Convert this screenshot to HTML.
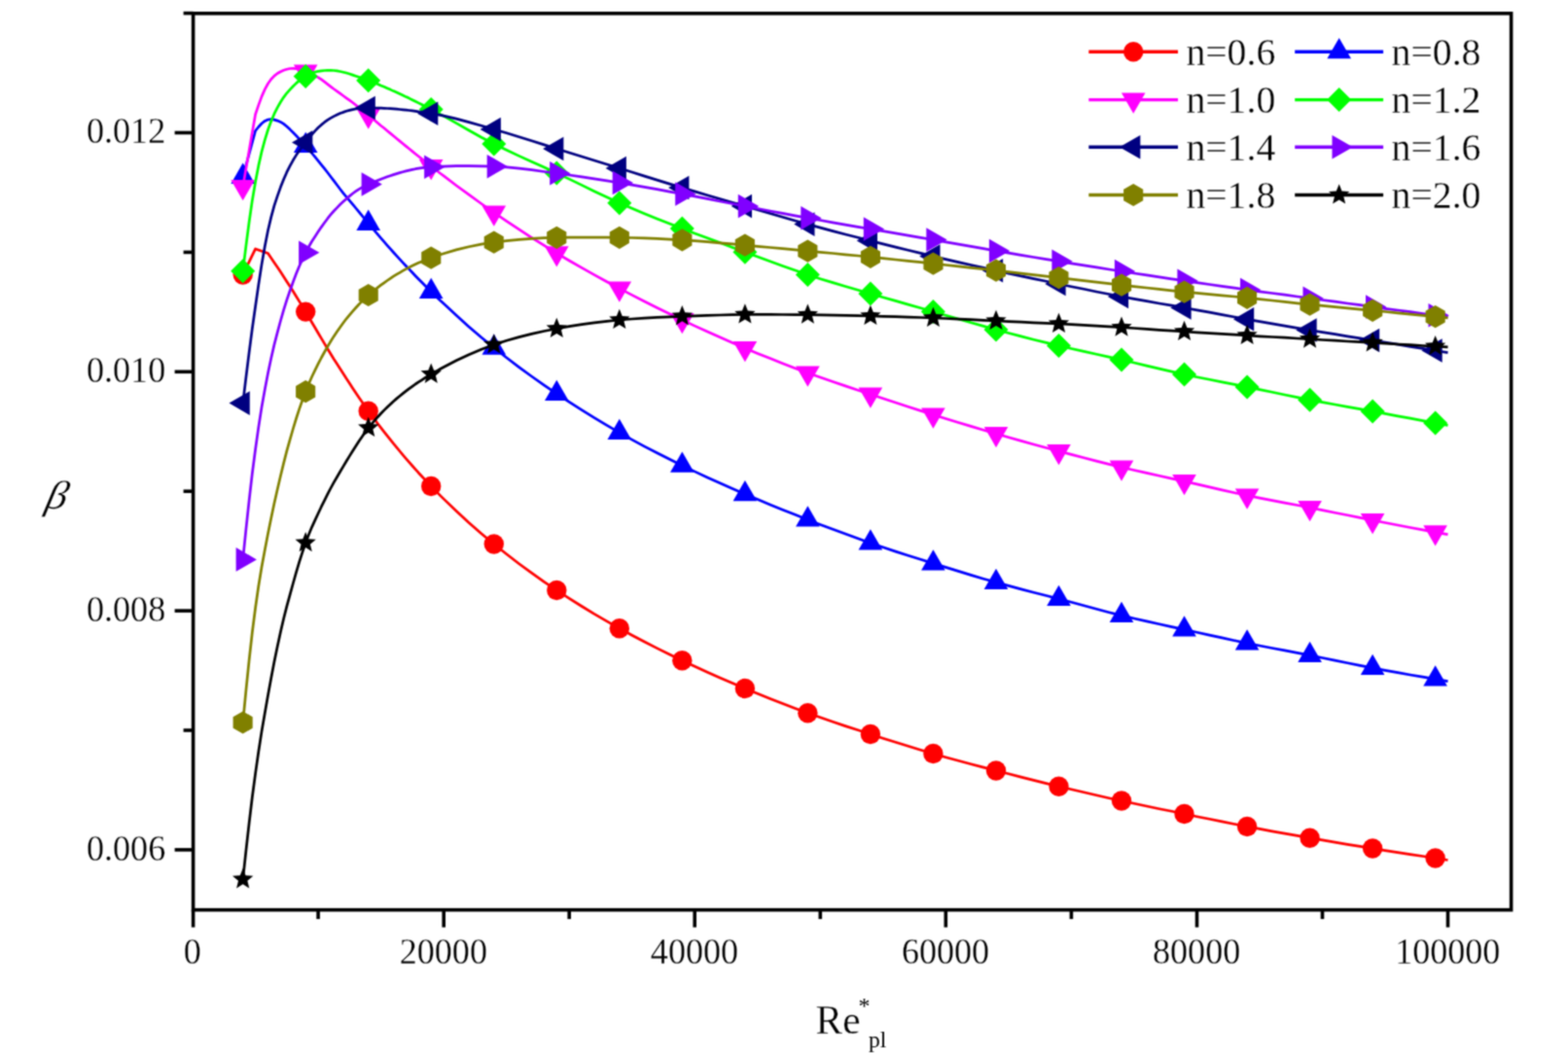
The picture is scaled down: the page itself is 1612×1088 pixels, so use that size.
<!DOCTYPE html>
<html lang="en"><head><meta charset="utf-8"><title>beta vs Re*pl</title>
<style>html,body{margin:0;padding:0;background:#fff}svg{display:block}text{font-family:"Liberation Serif","Times New Roman",serif;fill:#000;stroke:#fff;stroke-width:0.3px}</style></head><body>
<svg width="1612" height="1088" viewBox="0 0 1612 1088">
<defs><filter id="soft" x="0" y="0" width="1612" height="1088" filterUnits="userSpaceOnUse" color-interpolation-filters="sRGB"><feConvolveMatrix order="3" kernelMatrix="1 2 1 2 6 2 1 2 1" divisor="18" edgeMode="duplicate" preserveAlpha="true"/></filter></defs>
<g filter="url(#soft)">
<rect width="1612" height="1088" fill="#fff"/>
<g>
<polyline fill="none" stroke="#ff0000" stroke-width="2.7" stroke-linejoin="round" points="249.7,282.5 262.6,255.9 275.5,260.5 278.7,265.2 281.9,269.9 285.2,274.7 288.4,279.5 291.6,284.4 294.8,289.4 298.1,294.4 301.3,299.5 304.5,304.7 307.7,309.9 311.0,315.2 314.2,320.6 317.4,326.0 320.6,331.5 323.9,337.0 327.1,342.5 330.3,347.9 333.6,353.4 336.8,358.7 340.0,364.0 343.2,369.2 346.5,374.3 349.7,379.3 352.9,384.3 356.1,389.3 359.4,394.2 362.6,399.2 365.8,404.0 369.0,408.8 372.3,413.5 375.5,418.2 378.7,422.7 381.9,427.1 385.2,431.4 388.4,435.7 391.6,439.9 394.9,444.1 398.1,448.2 401.3,452.2 404.5,456.2 407.8,460.1 411.0,464.0 414.2,467.9 417.4,471.6 420.7,475.4 423.9,479.0 427.1,482.6 430.3,486.2 433.6,489.7 436.8,493.2 440.0,496.6 443.2,500.0 446.5,503.3 449.7,506.6 452.9,509.9 456.2,513.1 469.1,525.5 482.0,537.4 494.9,548.7 507.8,559.5 520.7,569.8 533.6,579.7 546.5,589.2 559.4,598.3 572.3,607.0 585.2,615.4 598.1,623.5 611.0,631.4 623.9,638.9 636.8,646.2 649.7,653.2 662.6,660.0 675.5,666.6 688.4,673.0 701.3,679.2 714.2,685.3 727.2,691.2 740.1,696.9 753.0,702.5 765.9,708.0 778.8,713.3 791.7,718.5 804.6,723.6 817.5,728.5 830.4,733.2 843.3,737.8 856.2,742.2 869.1,746.6 882.0,750.8 894.9,755.0 907.8,759.2 920.7,763.2 933.6,767.3 946.5,771.2 959.4,775.0 972.3,778.7 985.3,782.2 998.2,785.7 1011.1,789.1 1024.0,792.5 1036.9,795.8 1049.8,799.1 1062.7,802.4 1075.6,805.6 1088.5,808.7 1101.4,811.8 1114.3,814.8 1127.2,817.8 1140.1,820.7 1153.0,823.5 1165.9,826.3 1178.8,829.0 1191.7,831.7 1204.6,834.3 1217.5,837.0 1230.5,839.7 1243.4,842.3 1256.3,844.9 1269.2,847.5 1282.1,850.0 1295.0,852.4 1307.9,854.8 1320.8,857.2 1333.7,859.4 1346.6,861.7 1359.5,863.9 1372.4,866.1 1385.3,868.3 1398.2,870.4 1411.1,872.5 1424.0,874.6 1436.9,876.6 1449.8,878.6 1462.7,880.5 1475.6,882.5 1488.5,884.5"/>
<circle cx="249.7" cy="282.5" r="10.2" fill="#ff0000"/>
<circle cx="314.2" cy="320.6" r="10.2" fill="#ff0000"/>
<circle cx="378.7" cy="422.7" r="10.2" fill="#ff0000"/>
<circle cx="443.2" cy="500.0" r="10.2" fill="#ff0000"/>
<circle cx="507.8" cy="559.5" r="10.2" fill="#ff0000"/>
<circle cx="572.3" cy="607.0" r="10.2" fill="#ff0000"/>
<circle cx="636.8" cy="646.2" r="10.2" fill="#ff0000"/>
<circle cx="701.3" cy="679.2" r="10.2" fill="#ff0000"/>
<circle cx="765.9" cy="708.0" r="10.2" fill="#ff0000"/>
<circle cx="830.4" cy="733.2" r="10.2" fill="#ff0000"/>
<circle cx="894.9" cy="755.0" r="10.2" fill="#ff0000"/>
<circle cx="959.4" cy="775.0" r="10.2" fill="#ff0000"/>
<circle cx="1024.0" cy="792.5" r="10.2" fill="#ff0000"/>
<circle cx="1088.5" cy="808.7" r="10.2" fill="#ff0000"/>
<circle cx="1153.0" cy="823.5" r="10.2" fill="#ff0000"/>
<circle cx="1217.5" cy="837.0" r="10.2" fill="#ff0000"/>
<circle cx="1282.1" cy="850.0" r="10.2" fill="#ff0000"/>
<circle cx="1346.6" cy="861.7" r="10.2" fill="#ff0000"/>
<circle cx="1411.1" cy="872.5" r="10.2" fill="#ff0000"/>
<circle cx="1475.6" cy="882.5" r="10.2" fill="#ff0000"/>
</g>
<g>
<polyline fill="none" stroke="#0000ff" stroke-width="2.7" stroke-linejoin="round" points="249.7,181.8 262.6,134.5 265.8,130.5 269.0,127.0 272.3,124.4 275.5,123.0 278.7,122.7 281.9,123.1 285.2,124.1 288.4,125.4 291.6,127.4 294.8,130.0 298.1,133.1 301.3,136.3 304.5,139.5 307.7,142.9 311.0,146.4 314.2,150.0 317.4,153.7 320.6,157.5 323.9,161.4 327.1,165.3 330.3,169.3 333.6,173.4 336.8,177.5 340.0,181.7 343.2,185.9 346.5,190.2 349.7,194.5 352.9,198.6 356.1,202.5 359.4,206.4 362.6,210.2 365.8,214.0 369.0,217.9 372.3,221.9 375.5,225.9 378.7,229.8 381.9,233.6 385.2,237.4 388.4,241.2 391.6,244.9 394.9,248.6 398.1,252.3 401.3,255.9 404.5,259.5 407.8,263.1 411.0,266.6 414.2,270.1 417.4,273.5 420.7,276.9 423.9,280.3 427.1,283.7 430.3,287.0 433.6,290.3 436.8,293.5 440.0,296.7 443.2,299.9 446.5,303.0 449.7,306.2 452.9,309.3 456.2,312.3 469.1,324.3 482.0,335.9 494.9,347.0 507.8,357.6 520.7,367.8 533.6,377.6 546.5,387.0 559.4,396.1 572.3,404.9 585.2,413.4 598.1,421.7 611.0,429.7 623.9,437.4 636.8,444.9 649.7,452.1 662.6,459.1 675.5,465.8 688.4,472.3 701.3,478.7 714.2,484.9 727.2,490.9 740.1,496.8 753.0,502.5 765.9,508.1 778.8,513.6 791.7,518.9 804.6,524.2 817.5,529.3 830.4,534.4 843.3,539.4 856.2,544.3 869.1,549.1 882.0,553.8 894.9,558.4 907.8,562.8 920.7,567.1 933.6,571.2 946.5,575.3 959.4,579.4 972.3,583.4 985.3,587.4 998.2,591.4 1011.1,595.2 1024.0,598.9 1036.9,602.4 1049.8,605.9 1062.7,609.2 1075.6,612.5 1088.5,615.9 1101.4,619.3 1114.3,622.8 1127.2,626.3 1140.1,629.7 1153.0,632.9 1165.9,636.0 1178.8,638.9 1191.7,641.8 1204.6,644.6 1217.5,647.4 1230.5,650.2 1243.4,653.1 1256.3,655.9 1269.2,658.7 1282.1,661.4 1295.0,664.0 1307.9,666.5 1320.8,668.9 1333.7,671.4 1346.6,673.9 1359.5,676.5 1372.4,679.1 1385.3,681.8 1398.2,684.4 1411.1,686.9 1424.0,689.3 1436.9,691.7 1449.8,694.0 1462.7,696.2 1475.6,698.4 1488.5,700.6"/>
<polygon points="249.7,167.6 262.0,188.9 237.4,188.9" fill="#0000ff"/>
<polygon points="314.2,135.8 326.5,157.1 301.9,157.1" fill="#0000ff"/>
<polygon points="378.7,215.6 391.0,236.9 366.4,236.9" fill="#0000ff"/>
<polygon points="443.2,285.7 455.5,307.0 430.9,307.0" fill="#0000ff"/>
<polygon points="507.8,343.4 520.1,364.7 495.5,364.7" fill="#0000ff"/>
<polygon points="572.3,390.7 584.6,412.0 560.0,412.0" fill="#0000ff"/>
<polygon points="636.8,430.7 649.1,452.0 624.5,452.0" fill="#0000ff"/>
<polygon points="701.3,464.5 713.6,485.8 689.0,485.8" fill="#0000ff"/>
<polygon points="765.9,493.9 778.2,515.2 753.6,515.2" fill="#0000ff"/>
<polygon points="830.4,520.2 842.7,541.5 818.1,541.5" fill="#0000ff"/>
<polygon points="894.9,544.2 907.2,565.5 882.6,565.5" fill="#0000ff"/>
<polygon points="959.4,565.2 971.7,586.5 947.1,586.5" fill="#0000ff"/>
<polygon points="1024.0,584.7 1036.3,606.0 1011.7,606.0" fill="#0000ff"/>
<polygon points="1088.5,601.7 1100.8,623.0 1076.2,623.0" fill="#0000ff"/>
<polygon points="1153.0,618.7 1165.3,640.0 1140.7,640.0" fill="#0000ff"/>
<polygon points="1217.5,633.2 1229.8,654.5 1205.2,654.5" fill="#0000ff"/>
<polygon points="1282.1,647.2 1294.4,668.5 1269.8,668.5" fill="#0000ff"/>
<polygon points="1346.6,659.7 1358.9,681.0 1334.3,681.0" fill="#0000ff"/>
<polygon points="1411.1,672.7 1423.4,694.0 1398.8,694.0" fill="#0000ff"/>
<polygon points="1475.6,684.2 1487.9,705.5 1463.3,705.5" fill="#0000ff"/>
</g>
<g>
<polyline fill="none" stroke="#ff00ff" stroke-width="2.7" stroke-linejoin="round" points="249.7,192.0 262.6,117.5 265.8,108.1 269.0,99.4 272.3,91.9 275.5,86.0 278.7,81.5 281.9,78.1 285.2,75.5 288.4,73.7 291.6,72.3 294.8,71.3 298.1,70.5 301.3,70.3 304.5,70.6 307.7,71.3 311.0,72.4 314.2,73.5 317.4,74.7 320.6,76.2 323.9,77.8 327.1,79.6 330.3,81.7 333.6,84.1 336.8,86.6 340.0,89.1 343.2,91.5 346.5,93.8 349.7,96.2 352.9,98.5 356.1,100.8 359.4,103.2 362.6,105.5 365.8,108.0 369.0,110.5 372.3,113.2 375.5,115.8 378.7,118.5 381.9,121.2 385.2,123.8 388.4,126.5 391.6,129.2 394.9,131.8 398.1,134.5 401.3,137.1 404.5,139.8 407.8,142.5 411.0,145.1 414.2,147.8 417.4,150.4 420.7,153.0 423.9,155.6 427.1,158.2 430.3,160.8 433.6,163.4 436.8,165.9 440.0,168.5 443.2,171.0 446.5,173.5 449.7,176.0 452.9,178.5 456.2,180.9 469.1,190.7 482.0,200.2 494.9,209.5 507.8,218.5 520.7,227.3 533.6,235.9 546.5,244.3 559.4,252.4 572.3,260.3 585.2,268.0 598.1,275.4 611.0,282.6 623.9,289.7 636.8,296.6 649.7,303.4 662.6,310.0 675.5,316.5 688.4,322.8 701.3,329.0 714.2,335.1 727.2,341.0 740.1,346.8 753.0,352.5 765.9,358.0 778.8,363.4 791.7,368.6 804.6,373.7 817.5,378.7 830.4,383.5 843.3,388.1 856.2,392.6 869.1,396.9 882.0,401.2 894.9,405.5 907.8,409.8 920.7,414.0 933.6,418.2 946.5,422.4 959.4,426.5 972.3,430.5 985.3,434.5 998.2,438.4 1011.1,442.2 1024.0,446.0 1036.9,449.7 1049.8,453.4 1062.7,457.0 1075.6,460.5 1088.5,464.0 1101.4,467.4 1114.3,470.8 1127.2,474.1 1140.1,477.4 1153.0,480.5 1165.9,483.5 1178.8,486.4 1191.7,489.3 1204.6,492.1 1217.5,495.0 1230.5,497.9 1243.4,500.9 1256.3,503.9 1269.2,506.7 1282.1,509.5 1295.0,512.1 1307.9,514.6 1320.8,517.1 1333.7,519.5 1346.6,522.0 1359.5,524.6 1372.4,527.2 1385.3,529.8 1398.2,532.4 1411.1,535.0 1424.0,537.5 1436.9,540.0 1449.8,542.5 1462.7,544.9 1475.6,547.3 1488.5,549.7"/>
<polygon points="249.7,206.2 262.0,184.9 237.4,184.9" fill="#ff00ff"/>
<polygon points="314.2,87.7 326.5,66.4 301.9,66.4" fill="#ff00ff"/>
<polygon points="378.7,132.7 391.0,111.4 366.4,111.4" fill="#ff00ff"/>
<polygon points="443.2,185.2 455.5,163.9 430.9,163.9" fill="#ff00ff"/>
<polygon points="507.8,232.7 520.1,211.4 495.5,211.4" fill="#ff00ff"/>
<polygon points="572.3,274.5 584.6,253.2 560.0,253.2" fill="#ff00ff"/>
<polygon points="636.8,310.8 649.1,289.5 624.5,289.5" fill="#ff00ff"/>
<polygon points="701.3,343.2 713.6,321.9 689.0,321.9" fill="#ff00ff"/>
<polygon points="765.9,372.2 778.2,350.9 753.6,350.9" fill="#ff00ff"/>
<polygon points="830.4,397.7 842.7,376.4 818.1,376.4" fill="#ff00ff"/>
<polygon points="894.9,419.7 907.2,398.4 882.6,398.4" fill="#ff00ff"/>
<polygon points="959.4,440.7 971.7,419.4 947.1,419.4" fill="#ff00ff"/>
<polygon points="1024.0,460.2 1036.3,438.9 1011.7,438.9" fill="#ff00ff"/>
<polygon points="1088.5,478.2 1100.8,456.9 1076.2,456.9" fill="#ff00ff"/>
<polygon points="1153.0,494.7 1165.3,473.4 1140.7,473.4" fill="#ff00ff"/>
<polygon points="1217.5,509.2 1229.8,487.9 1205.2,487.9" fill="#ff00ff"/>
<polygon points="1282.1,523.7 1294.4,502.4 1269.8,502.4" fill="#ff00ff"/>
<polygon points="1346.6,536.2 1358.9,514.9 1334.3,514.9" fill="#ff00ff"/>
<polygon points="1411.1,549.2 1423.4,527.9 1398.8,527.9" fill="#ff00ff"/>
<polygon points="1475.6,561.5 1487.9,540.2 1463.3,540.2" fill="#ff00ff"/>
</g>
<g>
<polyline fill="none" stroke="#00ff00" stroke-width="2.7" stroke-linejoin="round" points="249.7,278.7 252.9,252.9 256.1,228.5 259.3,206.4 262.6,187.0 265.8,170.4 269.0,156.1 272.3,143.8 275.5,133.5 278.7,124.8 281.9,117.2 285.2,110.6 288.4,105.0 291.6,100.1 294.8,95.8 298.1,92.1 301.3,88.7 304.5,85.6 307.7,82.9 311.0,80.4 314.2,78.4 317.4,76.7 320.6,75.2 323.9,74.1 327.1,73.3 330.3,72.8 333.6,72.5 336.8,72.3 340.0,72.3 343.2,72.5 346.5,72.9 349.7,73.5 352.9,74.2 356.1,75.0 359.4,76.0 362.6,77.1 365.8,78.2 369.0,79.3 372.3,80.4 375.5,81.6 378.7,82.8 381.9,84.0 385.2,85.3 388.4,86.6 391.6,88.0 394.9,89.3 398.1,90.7 401.3,92.1 404.5,93.6 407.8,95.0 411.0,96.5 414.2,98.0 417.4,99.6 420.7,101.1 423.9,102.7 427.1,104.3 430.3,105.9 433.6,107.5 436.8,109.2 440.0,110.8 443.2,112.5 446.5,114.2 449.7,115.9 452.9,117.7 456.2,119.4 469.1,126.7 482.0,134.0 494.9,141.2 507.8,148.0 520.7,154.3 533.6,160.4 546.5,166.2 559.4,172.1 572.3,178.0 585.2,184.1 598.1,190.4 611.0,196.7 623.9,202.8 636.8,208.7 649.7,214.3 662.6,219.7 675.5,224.9 688.4,230.0 701.3,235.0 714.2,239.9 727.2,244.8 740.1,249.6 753.0,254.4 765.9,259.2 778.8,264.0 791.7,268.8 804.6,273.5 817.5,278.1 830.4,282.5 843.3,286.7 856.2,290.6 869.1,294.5 882.0,298.3 894.9,302.0 907.8,305.7 920.7,309.4 933.6,313.1 946.5,316.8 959.4,320.5 972.3,324.2 985.3,328.0 998.2,331.7 1011.1,335.4 1024.0,339.0 1036.9,342.5 1049.8,345.9 1062.7,349.2 1075.6,352.4 1088.5,355.5 1101.4,358.5 1114.3,361.4 1127.2,364.2 1140.1,367.1 1153.0,370.0 1165.9,373.0 1178.8,376.1 1191.7,379.1 1204.6,382.1 1217.5,385.0 1230.5,387.7 1243.4,390.3 1256.3,392.9 1269.2,395.4 1282.1,398.0 1295.0,400.6 1307.9,403.3 1320.8,406.0 1333.7,408.6 1346.6,411.2 1359.5,413.7 1372.4,416.0 1385.3,418.4 1398.2,420.7 1411.1,423.0 1424.0,425.4 1436.9,427.8 1449.8,430.2 1462.7,432.6 1475.6,435.0 1488.5,437.4"/>
<polygon points="249.7,266.2 262.2,278.7 249.7,291.2 237.2,278.7" fill="#00ff00"/>
<polygon points="314.2,65.9 326.7,78.4 314.2,90.9 301.7,78.4" fill="#00ff00"/>
<polygon points="378.7,70.3 391.2,82.8 378.7,95.3 366.2,82.8" fill="#00ff00"/>
<polygon points="443.2,100.0 455.7,112.5 443.2,125.0 430.7,112.5" fill="#00ff00"/>
<polygon points="507.8,135.5 520.3,148.0 507.8,160.5 495.3,148.0" fill="#00ff00"/>
<polygon points="572.3,165.5 584.8,178.0 572.3,190.5 559.8,178.0" fill="#00ff00"/>
<polygon points="636.8,196.2 649.3,208.7 636.8,221.2 624.3,208.7" fill="#00ff00"/>
<polygon points="701.3,222.5 713.8,235.0 701.3,247.5 688.8,235.0" fill="#00ff00"/>
<polygon points="765.9,246.7 778.4,259.2 765.9,271.7 753.4,259.2" fill="#00ff00"/>
<polygon points="830.4,270.0 842.9,282.5 830.4,295.0 817.9,282.5" fill="#00ff00"/>
<polygon points="894.9,289.5 907.4,302.0 894.9,314.5 882.4,302.0" fill="#00ff00"/>
<polygon points="959.4,308.0 971.9,320.5 959.4,333.0 946.9,320.5" fill="#00ff00"/>
<polygon points="1024.0,326.5 1036.5,339.0 1024.0,351.5 1011.5,339.0" fill="#00ff00"/>
<polygon points="1088.5,343.0 1101.0,355.5 1088.5,368.0 1076.0,355.5" fill="#00ff00"/>
<polygon points="1153.0,357.5 1165.5,370.0 1153.0,382.5 1140.5,370.0" fill="#00ff00"/>
<polygon points="1217.5,372.5 1230.0,385.0 1217.5,397.5 1205.0,385.0" fill="#00ff00"/>
<polygon points="1282.1,385.5 1294.6,398.0 1282.1,410.5 1269.6,398.0" fill="#00ff00"/>
<polygon points="1346.6,398.7 1359.1,411.2 1346.6,423.7 1334.1,411.2" fill="#00ff00"/>
<polygon points="1411.1,410.5 1423.6,423.0 1411.1,435.5 1398.6,423.0" fill="#00ff00"/>
<polygon points="1475.6,422.5 1488.1,435.0 1475.6,447.5 1463.1,435.0" fill="#00ff00"/>
</g>
<g>
<polyline fill="none" stroke="#000080" stroke-width="2.7" stroke-linejoin="round" points="249.7,414.6 252.9,388.2 256.1,362.7 259.3,338.2 262.6,315.0 265.8,292.9 269.0,272.1 272.3,253.2 275.5,237.0 278.7,223.4 281.9,211.7 285.2,201.6 288.4,192.6 291.6,184.5 294.8,177.2 298.1,170.7 301.3,164.8 304.5,159.6 307.7,155.0 311.0,150.6 314.2,146.5 317.4,142.4 320.6,138.4 323.9,134.6 327.1,131.3 330.3,128.4 333.6,125.7 336.8,123.4 340.0,121.4 343.2,119.6 346.5,118.0 349.7,116.6 352.9,115.4 356.1,114.3 359.4,113.4 362.6,112.6 365.8,112.0 369.0,111.6 372.3,111.3 375.5,111.1 378.7,111.0 381.9,111.0 385.2,111.0 388.4,111.1 391.6,111.2 394.9,111.3 398.1,111.5 401.3,111.7 404.5,111.9 407.8,112.2 411.0,112.5 414.2,112.8 417.4,113.1 420.7,113.5 423.9,113.9 427.1,114.3 430.3,114.8 433.6,115.2 436.8,115.7 440.0,116.2 443.2,116.7 446.5,117.2 449.7,117.8 452.9,118.4 456.2,119.1 469.1,122.1 482.0,125.6 494.9,129.3 507.8,133.0 520.7,136.8 533.6,140.8 546.5,144.8 559.4,148.9 572.3,153.0 585.2,157.0 598.1,161.0 611.0,165.0 623.9,169.0 636.8,173.0 649.7,177.0 662.6,181.1 675.5,185.1 688.4,189.1 701.3,193.0 714.2,196.9 727.2,200.7 740.1,204.5 753.0,208.2 765.9,212.0 778.8,215.8 791.7,219.5 804.6,223.3 817.5,227.0 830.4,230.6 843.3,234.1 856.2,237.6 869.1,241.0 882.0,244.3 894.9,247.6 907.8,250.9 920.7,254.1 933.6,257.3 946.5,260.4 959.4,263.5 972.3,266.6 985.3,269.6 998.2,272.5 1011.1,275.4 1024.0,278.3 1036.9,281.1 1049.8,283.9 1062.7,286.6 1075.6,289.3 1088.5,292.0 1101.4,294.7 1114.3,297.3 1127.2,300.0 1140.1,302.5 1153.0,305.0 1165.9,307.4 1178.8,309.7 1191.7,312.0 1204.6,314.2 1217.5,316.5 1230.5,318.8 1243.4,321.2 1256.3,323.6 1269.2,326.0 1282.1,328.3 1295.0,330.6 1307.9,332.9 1320.8,335.1 1333.7,337.3 1346.6,339.5 1359.5,341.6 1372.4,343.7 1385.3,345.8 1398.2,347.9 1411.1,350.0 1424.0,352.1 1436.9,354.2 1449.8,356.3 1462.7,358.4 1475.6,360.5 1488.5,362.6"/>
<polygon points="235.5,414.6 256.8,402.3 256.8,426.9" fill="#000080"/>
<polygon points="300.0,146.5 321.3,134.2 321.3,158.8" fill="#000080"/>
<polygon points="364.5,111.0 385.8,98.7 385.8,123.3" fill="#000080"/>
<polygon points="429.0,116.7 450.3,104.4 450.3,129.0" fill="#000080"/>
<polygon points="493.6,133.0 514.9,120.7 514.9,145.3" fill="#000080"/>
<polygon points="558.1,153.0 579.4,140.7 579.4,165.3" fill="#000080"/>
<polygon points="622.6,173.0 643.9,160.7 643.9,185.3" fill="#000080"/>
<polygon points="687.1,193.0 708.4,180.7 708.4,205.3" fill="#000080"/>
<polygon points="751.7,212.0 773.0,199.7 773.0,224.3" fill="#000080"/>
<polygon points="816.2,230.6 837.5,218.3 837.5,242.9" fill="#000080"/>
<polygon points="880.7,247.6 902.0,235.3 902.0,259.9" fill="#000080"/>
<polygon points="945.2,263.5 966.5,251.2 966.5,275.8" fill="#000080"/>
<polygon points="1009.8,278.3 1031.1,266.0 1031.1,290.6" fill="#000080"/>
<polygon points="1074.3,292.0 1095.6,279.7 1095.6,304.3" fill="#000080"/>
<polygon points="1138.8,305.0 1160.1,292.7 1160.1,317.3" fill="#000080"/>
<polygon points="1203.3,316.5 1224.6,304.2 1224.6,328.8" fill="#000080"/>
<polygon points="1267.9,328.3 1289.2,316.0 1289.2,340.6" fill="#000080"/>
<polygon points="1332.4,339.5 1353.7,327.2 1353.7,351.8" fill="#000080"/>
<polygon points="1396.9,350.0 1418.2,337.7 1418.2,362.3" fill="#000080"/>
<polygon points="1461.4,360.5 1482.7,348.2 1482.7,372.8" fill="#000080"/>
</g>
<g>
<polyline fill="none" stroke="#8000ff" stroke-width="2.7" stroke-linejoin="round" points="249.7,575.4 252.9,544.4 256.1,514.8 259.3,487.2 262.6,462.0 265.8,439.4 269.0,418.9 272.3,400.4 275.5,383.7 278.7,368.5 281.9,354.6 285.2,341.9 288.4,330.0 291.6,318.9 294.8,308.6 298.1,299.0 301.3,290.0 304.5,281.6 307.7,273.7 311.0,266.4 314.2,259.8 317.4,253.8 320.6,248.3 323.9,243.2 327.1,238.3 330.3,233.6 333.6,229.0 336.8,224.7 340.0,220.7 343.2,217.0 346.5,213.6 349.7,210.3 352.9,207.3 356.1,204.4 359.4,201.6 362.6,199.0 365.8,196.7 369.0,194.6 372.3,192.7 375.5,191.0 378.7,189.5 381.9,188.1 385.2,186.8 388.4,185.5 391.6,184.2 394.9,183.0 398.1,181.8 401.3,180.7 404.5,179.6 407.8,178.6 411.0,177.6 414.2,176.7 417.4,175.9 420.7,175.1 423.9,174.4 427.1,173.7 430.3,173.2 433.6,172.7 436.8,172.3 440.0,171.9 443.2,171.7 446.5,171.5 449.7,171.3 452.9,171.2 456.2,171.1 469.1,170.7 482.0,170.7 494.9,170.8 507.8,171.2 520.7,171.9 533.6,173.2 546.5,174.7 559.4,176.5 572.3,178.2 585.2,180.0 598.1,181.8 611.0,183.8 623.9,185.9 636.8,188.0 649.7,190.2 662.6,192.4 675.5,194.7 688.4,197.1 701.3,199.5 714.2,201.9 727.2,204.4 740.1,207.0 753.0,209.5 765.9,212.0 778.8,214.5 791.7,217.0 804.6,219.4 817.5,221.8 830.4,224.2 843.3,226.5 856.2,228.8 869.1,231.1 882.0,233.3 894.9,235.5 907.8,237.7 920.7,239.9 933.6,242.1 946.5,244.3 959.4,246.5 972.3,248.8 985.3,251.1 998.2,253.4 1011.1,255.7 1024.0,258.0 1036.9,260.2 1049.8,262.4 1062.7,264.5 1075.6,266.6 1088.5,268.7 1101.4,270.8 1114.3,272.9 1127.2,274.9 1140.1,277.0 1153.0,279.0 1165.9,281.0 1178.8,282.9 1191.7,284.9 1204.6,286.8 1217.5,288.7 1230.5,290.6 1243.4,292.5 1256.3,294.3 1269.2,296.2 1282.1,298.0 1295.0,299.8 1307.9,301.5 1320.8,303.2 1333.7,305.0 1346.6,306.7 1359.5,308.5 1372.4,310.2 1385.3,312.0 1398.2,313.7 1411.1,315.5 1424.0,317.3 1436.9,319.0 1449.8,320.7 1462.7,322.5 1475.6,324.2 1488.5,325.9"/>
<polygon points="263.9,575.4 242.6,563.1 242.6,587.7" fill="#8000ff"/>
<polygon points="328.4,259.8 307.1,247.5 307.1,272.1" fill="#8000ff"/>
<polygon points="392.9,189.5 371.6,177.2 371.6,201.8" fill="#8000ff"/>
<polygon points="457.4,171.7 436.1,159.4 436.1,184.0" fill="#8000ff"/>
<polygon points="522.0,171.2 500.7,158.9 500.7,183.5" fill="#8000ff"/>
<polygon points="586.5,178.2 565.2,165.9 565.2,190.5" fill="#8000ff"/>
<polygon points="651.0,188.0 629.7,175.7 629.7,200.3" fill="#8000ff"/>
<polygon points="715.5,199.5 694.2,187.2 694.2,211.8" fill="#8000ff"/>
<polygon points="780.1,212.0 758.8,199.7 758.8,224.3" fill="#8000ff"/>
<polygon points="844.6,224.2 823.3,211.9 823.3,236.5" fill="#8000ff"/>
<polygon points="909.1,235.5 887.8,223.2 887.8,247.8" fill="#8000ff"/>
<polygon points="973.6,246.5 952.3,234.2 952.3,258.8" fill="#8000ff"/>
<polygon points="1038.2,258.0 1016.9,245.7 1016.9,270.3" fill="#8000ff"/>
<polygon points="1102.7,268.7 1081.4,256.4 1081.4,281.0" fill="#8000ff"/>
<polygon points="1167.2,279.0 1145.9,266.7 1145.9,291.3" fill="#8000ff"/>
<polygon points="1231.7,288.7 1210.4,276.4 1210.4,301.0" fill="#8000ff"/>
<polygon points="1296.3,298.0 1275.0,285.7 1275.0,310.3" fill="#8000ff"/>
<polygon points="1360.8,306.7 1339.5,294.4 1339.5,319.0" fill="#8000ff"/>
<polygon points="1425.3,315.5 1404.0,303.2 1404.0,327.8" fill="#8000ff"/>
<polygon points="1489.8,324.2 1468.5,311.9 1468.5,336.5" fill="#8000ff"/>
</g>
<g>
<polyline fill="none" stroke="#808000" stroke-width="2.7" stroke-linejoin="round" points="249.7,743.0 252.9,710.2 256.1,679.2 259.3,650.6 262.6,625.0 265.8,602.8 269.0,583.2 272.3,565.4 275.5,548.8 278.7,532.9 281.9,517.7 285.2,503.3 288.4,489.5 291.6,476.4 294.8,463.9 298.1,452.1 301.3,441.0 304.5,430.5 307.7,420.6 311.0,411.3 314.2,402.7 317.4,394.8 320.6,387.5 323.9,380.7 327.1,374.2 330.3,368.0 333.6,362.0 336.8,356.4 340.0,351.0 343.2,345.9 346.5,341.0 349.7,336.4 352.9,332.0 356.1,327.8 359.4,323.9 362.6,320.1 365.8,316.5 369.0,313.0 372.3,309.6 375.5,306.4 378.7,303.5 381.9,300.8 385.2,298.2 388.4,295.6 391.6,293.2 394.9,290.8 398.1,288.5 401.3,286.3 404.5,284.2 407.8,282.2 411.0,280.3 414.2,278.4 417.4,276.6 420.7,274.9 423.9,273.3 427.1,271.8 430.3,270.3 433.6,268.9 436.8,267.5 440.0,266.3 443.2,265.1 446.5,264.0 449.7,262.9 452.9,261.8 456.2,260.7 469.1,256.9 482.0,253.7 494.9,251.1 507.8,249.1 520.7,247.6 533.6,246.3 546.5,245.3 559.4,244.6 572.3,244.3 585.2,244.2 598.1,244.1 611.0,244.1 623.9,244.2 636.8,244.3 649.7,244.5 662.6,244.9 675.5,245.4 688.4,246.1 701.3,246.8 714.2,247.6 727.2,248.6 740.1,249.8 753.0,250.9 765.9,252.1 778.8,253.3 791.7,254.5 804.6,255.7 817.5,256.9 830.4,258.1 843.3,259.3 856.2,260.5 869.1,261.8 882.0,263.0 894.9,264.3 907.8,265.6 920.7,267.0 933.6,268.3 946.5,269.7 959.4,271.1 972.3,272.5 985.3,273.9 998.2,275.3 1011.1,276.7 1024.0,278.1 1036.9,279.6 1049.8,281.1 1062.7,282.6 1075.6,284.1 1088.5,285.6 1101.4,287.1 1114.3,288.6 1127.2,290.1 1140.1,291.6 1153.0,293.1 1165.9,294.6 1178.8,296.0 1191.7,297.4 1204.6,298.8 1217.5,300.1 1230.5,301.4 1243.4,302.6 1256.3,303.8 1269.2,305.0 1282.1,306.3 1295.0,307.6 1307.9,309.0 1320.8,310.4 1333.7,311.8 1346.6,313.1 1359.5,314.4 1372.4,315.6 1385.3,316.9 1398.2,318.1 1411.1,319.3 1424.0,320.5 1436.9,321.8 1449.8,323.1 1462.7,324.3 1475.6,325.6 1488.5,326.9"/>
<polygon points="249.7,731.4 259.7,737.2 259.7,748.8 249.7,754.6 239.6,748.8 239.6,737.2" fill="#808000"/>
<polygon points="314.2,391.1 324.2,396.9 324.2,408.5 314.2,414.3 304.1,408.5 304.1,396.9" fill="#808000"/>
<polygon points="378.7,291.9 388.8,297.7 388.8,309.3 378.7,315.1 368.7,309.3 368.7,297.7" fill="#808000"/>
<polygon points="443.2,253.5 453.3,259.3 453.3,270.9 443.2,276.7 433.2,270.9 433.2,259.3" fill="#808000"/>
<polygon points="507.8,237.5 517.8,243.3 517.8,254.9 507.8,260.7 497.7,254.9 497.7,243.3" fill="#808000"/>
<polygon points="572.3,232.7 582.3,238.5 582.3,250.1 572.3,255.9 562.2,250.1 562.2,238.5" fill="#808000"/>
<polygon points="636.8,232.7 646.9,238.5 646.9,250.1 636.8,255.9 626.8,250.1 626.8,238.5" fill="#808000"/>
<polygon points="701.3,235.2 711.4,241.0 711.4,252.6 701.3,258.4 691.3,252.6 691.3,241.0" fill="#808000"/>
<polygon points="765.9,240.5 775.9,246.3 775.9,257.9 765.9,263.7 755.8,257.9 755.8,246.3" fill="#808000"/>
<polygon points="830.4,246.5 840.4,252.3 840.4,263.9 830.4,269.7 820.3,263.9 820.3,252.3" fill="#808000"/>
<polygon points="894.9,252.7 905.0,258.5 905.0,270.1 894.9,275.9 884.9,270.1 884.9,258.5" fill="#808000"/>
<polygon points="959.4,259.5 969.5,265.3 969.5,276.9 959.4,282.7 949.4,276.9 949.4,265.3" fill="#808000"/>
<polygon points="1024.0,266.5 1034.0,272.3 1034.0,283.9 1024.0,289.7 1013.9,283.9 1013.9,272.3" fill="#808000"/>
<polygon points="1088.5,274.0 1098.5,279.8 1098.5,291.4 1088.5,297.2 1078.4,291.4 1078.4,279.8" fill="#808000"/>
<polygon points="1153.0,281.5 1163.1,287.3 1163.1,298.9 1153.0,304.7 1143.0,298.9 1143.0,287.3" fill="#808000"/>
<polygon points="1217.5,288.5 1227.6,294.3 1227.6,305.9 1217.5,311.7 1207.5,305.9 1207.5,294.3" fill="#808000"/>
<polygon points="1282.1,294.7 1292.1,300.5 1292.1,312.1 1282.1,317.9 1272.0,312.1 1272.0,300.5" fill="#808000"/>
<polygon points="1346.6,301.5 1356.6,307.3 1356.6,318.9 1346.6,324.7 1336.5,318.9 1336.5,307.3" fill="#808000"/>
<polygon points="1411.1,307.7 1421.2,313.5 1421.2,325.1 1411.1,330.9 1401.1,325.1 1401.1,313.5" fill="#808000"/>
<polygon points="1475.6,314.0 1485.7,319.8 1485.7,331.4 1475.6,337.2 1465.6,331.4 1465.6,319.8" fill="#808000"/>
</g>
<g>
<polyline fill="none" stroke="#000000" stroke-width="2.7" stroke-linejoin="round" points="249.7,904.3 252.9,874.9 256.1,846.7 259.3,820.0 262.6,795.4 265.8,773.0 269.0,752.4 272.3,733.2 275.5,715.0 278.7,697.5 281.9,680.7 285.2,664.8 288.4,650.0 291.6,636.3 294.8,623.6 298.1,611.6 301.3,600.0 304.5,588.7 307.7,577.8 311.0,567.6 314.2,558.2 317.4,549.8 320.6,542.1 323.9,534.9 327.1,528.0 330.3,521.2 333.6,514.6 336.8,508.2 340.0,502.0 343.2,496.1 346.5,490.5 349.7,485.0 352.9,479.6 356.1,474.2 359.4,468.9 362.6,463.8 365.8,458.7 369.0,453.7 372.3,448.9 375.5,444.2 378.7,440.0 381.9,436.1 385.2,432.3 388.4,428.7 391.6,425.3 394.9,421.9 398.1,418.8 401.3,415.7 404.5,412.7 407.8,409.9 411.0,407.2 414.2,404.6 417.4,402.1 420.7,399.6 423.9,397.3 427.1,395.0 430.3,392.9 433.6,390.8 436.8,388.7 440.0,386.7 443.2,384.8 446.5,382.9 449.7,381.1 452.9,379.3 456.2,377.5 469.1,370.8 482.0,364.7 494.9,359.3 507.8,354.5 520.7,350.3 533.6,346.6 546.5,343.4 559.4,340.5 572.3,338.0 585.2,335.7 598.1,333.7 611.0,331.8 623.9,330.3 636.8,329.0 649.7,328.0 662.6,327.1 675.5,326.4 688.4,325.8 701.3,325.3 714.2,324.8 727.2,324.4 740.1,324.0 753.0,323.7 765.9,323.5 778.8,323.4 791.7,323.4 804.6,323.5 817.5,323.6 830.4,323.7 843.3,323.9 856.2,324.1 869.1,324.4 882.0,324.7 894.9,325.0 907.8,325.3 920.7,325.7 933.6,326.1 946.5,326.5 959.4,327.0 972.3,327.5 985.3,328.1 998.2,328.7 1011.1,329.4 1024.0,330.0 1036.9,330.6 1049.8,331.2 1062.7,331.8 1075.6,332.4 1088.5,333.0 1101.4,333.7 1114.3,334.4 1127.2,335.1 1140.1,335.9 1153.0,336.7 1165.9,337.5 1178.8,338.4 1191.7,339.3 1204.6,340.1 1217.5,341.0 1230.5,341.8 1243.4,342.6 1256.3,343.4 1269.2,344.2 1282.1,345.0 1295.0,345.8 1307.9,346.5 1320.8,347.2 1333.7,348.0 1346.6,348.7 1359.5,349.5 1372.4,350.2 1385.3,351.0 1398.2,351.7 1411.1,352.5 1424.0,353.2 1436.9,354.0 1449.8,354.7 1462.7,355.5 1475.6,356.2 1488.5,356.9"/>
<polygon points="249.7,893.1 252.6,900.3 260.3,900.8 254.4,905.8 256.3,913.4 249.7,909.2 243.1,913.4 245.0,905.8 239.0,900.8 246.8,900.3" fill="#000000"/>
<polygon points="314.2,547.0 317.1,554.2 324.8,554.7 318.9,559.7 320.8,567.3 314.2,563.1 307.6,567.3 309.5,559.7 303.5,554.7 311.3,554.2" fill="#000000"/>
<polygon points="378.7,428.8 381.6,436.0 389.4,436.5 383.4,441.5 385.3,449.1 378.7,444.9 372.1,449.1 374.0,441.5 368.1,436.5 375.8,436.0" fill="#000000"/>
<polygon points="443.2,373.6 446.1,380.8 453.9,381.3 447.9,386.3 449.8,393.9 443.2,389.7 436.7,393.9 438.6,386.3 432.6,381.3 440.3,380.8" fill="#000000"/>
<polygon points="507.8,343.3 510.7,350.5 518.4,351.0 512.5,356.0 514.4,363.6 507.8,359.4 501.2,363.6 503.1,356.0 497.1,351.0 504.9,350.5" fill="#000000"/>
<polygon points="572.3,326.8 575.2,334.0 582.9,334.5 577.0,339.5 578.9,347.1 572.3,342.9 565.7,347.1 567.6,339.5 561.6,334.5 569.4,334.0" fill="#000000"/>
<polygon points="636.8,317.8 639.7,325.0 647.5,325.5 641.5,330.5 643.4,338.1 636.8,333.9 630.2,338.1 632.1,330.5 626.2,325.5 633.9,325.0" fill="#000000"/>
<polygon points="701.3,314.1 704.2,321.3 712.0,321.8 706.0,326.8 707.9,334.4 701.3,330.2 694.8,334.4 696.7,326.8 690.7,321.8 698.4,321.3" fill="#000000"/>
<polygon points="765.9,312.3 768.8,319.5 776.5,320.0 770.6,325.0 772.5,332.6 765.9,328.4 759.3,332.6 761.2,325.0 755.2,320.0 763.0,319.5" fill="#000000"/>
<polygon points="830.4,312.5 833.3,319.7 841.0,320.2 835.1,325.2 837.0,332.8 830.4,328.6 823.8,332.8 825.7,325.2 819.7,320.2 827.5,319.7" fill="#000000"/>
<polygon points="894.9,313.8 897.8,321.0 905.6,321.5 899.6,326.5 901.5,334.1 894.9,329.9 888.3,334.1 890.2,326.5 884.3,321.5 892.0,321.0" fill="#000000"/>
<polygon points="959.4,315.8 962.3,323.0 970.1,323.5 964.1,328.5 966.0,336.1 959.4,331.9 952.9,336.1 954.8,328.5 948.8,323.5 956.5,323.0" fill="#000000"/>
<polygon points="1024.0,318.8 1026.9,326.0 1034.6,326.5 1028.7,331.5 1030.6,339.1 1024.0,334.9 1017.4,339.1 1019.3,331.5 1013.3,326.5 1021.1,326.0" fill="#000000"/>
<polygon points="1088.5,321.8 1091.4,329.0 1099.1,329.5 1093.2,334.5 1095.1,342.1 1088.5,337.9 1081.9,342.1 1083.8,334.5 1077.8,329.5 1085.6,329.0" fill="#000000"/>
<polygon points="1153.0,325.5 1155.9,332.7 1163.7,333.2 1157.7,338.2 1159.6,345.8 1153.0,341.6 1146.4,345.8 1148.3,338.2 1142.4,333.2 1150.1,332.7" fill="#000000"/>
<polygon points="1217.5,329.8 1220.4,337.0 1228.2,337.5 1222.2,342.5 1224.1,350.1 1217.5,345.9 1211.0,350.1 1212.9,342.5 1206.9,337.5 1214.6,337.0" fill="#000000"/>
<polygon points="1282.1,333.8 1285.0,341.0 1292.7,341.5 1286.8,346.5 1288.7,354.1 1282.1,349.9 1275.5,354.1 1277.4,346.5 1271.4,341.5 1279.2,341.0" fill="#000000"/>
<polygon points="1346.6,337.5 1349.5,344.7 1357.2,345.2 1351.3,350.2 1353.2,357.8 1346.6,353.6 1340.0,357.8 1341.9,350.2 1335.9,345.2 1343.7,344.7" fill="#000000"/>
<polygon points="1411.1,341.3 1414.0,348.5 1421.8,349.0 1415.8,354.0 1417.7,361.6 1411.1,357.4 1404.5,361.6 1406.4,354.0 1400.5,349.0 1408.2,348.5" fill="#000000"/>
<polygon points="1475.6,345.0 1478.5,352.2 1486.3,352.7 1480.3,357.7 1482.2,365.3 1475.6,361.1 1469.1,365.3 1471.0,357.7 1465.0,352.7 1472.7,352.2" fill="#000000"/>
</g>
<g stroke="#000" stroke-width="3.6" fill="none" stroke-linecap="butt">
<rect x="198.6" y="13.8" width="1355.0" height="921.9"/>
<line x1="179.6" y1="873.9" x2="198.6" y2="873.9"/>
<line x1="188.6" y1="751.0" x2="198.6" y2="751.0"/>
<line x1="179.6" y1="628.1" x2="198.6" y2="628.1"/>
<line x1="188.6" y1="505.2" x2="198.6" y2="505.2"/>
<line x1="179.6" y1="382.3" x2="198.6" y2="382.3"/>
<line x1="188.6" y1="259.4" x2="198.6" y2="259.4"/>
<line x1="179.6" y1="136.5" x2="198.6" y2="136.5"/>
<line x1="188.6" y1="13.6" x2="198.6" y2="13.6"/>
<line x1="198.6" y1="935.6" x2="198.6" y2="953.6"/>
<line x1="327.1" y1="935.6" x2="327.1" y2="945.1"/>
<line x1="456.2" y1="935.6" x2="456.2" y2="953.6"/>
<line x1="585.2" y1="935.6" x2="585.2" y2="945.1"/>
<line x1="714.2" y1="935.6" x2="714.2" y2="953.6"/>
<line x1="843.3" y1="935.6" x2="843.3" y2="945.1"/>
<line x1="972.3" y1="935.6" x2="972.3" y2="953.6"/>
<line x1="1101.4" y1="935.6" x2="1101.4" y2="945.1"/>
<line x1="1230.5" y1="935.6" x2="1230.5" y2="953.6"/>
<line x1="1359.5" y1="935.6" x2="1359.5" y2="945.1"/>
<line x1="1488.5" y1="935.6" x2="1488.5" y2="953.6"/>
</g>
<text transform="translate(170.20 884.80) scale(0.950 1)" font-size="38.0" text-anchor="end">0.006</text>
<text transform="translate(170.20 639.00) scale(0.950 1)" font-size="38.0" text-anchor="end">0.008</text>
<text transform="translate(170.20 393.20) scale(0.950 1)" font-size="38.0" text-anchor="end">0.010</text>
<text transform="translate(170.20 147.40) scale(0.950 1)" font-size="38.0" text-anchor="end">0.012</text>
<text transform="translate(197.75 990.90) scale(0.950 1)" font-size="38.0" text-anchor="middle">0</text>
<text transform="translate(455.85 990.90) scale(0.950 1)" font-size="38.0" text-anchor="middle">20000</text>
<text transform="translate(713.95 990.90) scale(0.950 1)" font-size="38.0" text-anchor="middle">40000</text>
<text transform="translate(972.05 990.90) scale(0.950 1)" font-size="38.0" text-anchor="middle">60000</text>
<text transform="translate(1230.15 990.90) scale(0.950 1)" font-size="38.0" text-anchor="middle">80000</text>
<text transform="translate(1488.25 990.90) scale(0.950 1)" font-size="38.0" text-anchor="middle">100000</text>
<text transform="translate(45.30 523.30) skewX(-13.0) scale(1.060 1)" font-size="41.0" text-anchor="start" font-style="italic">β</text>
<text transform="translate(838.60 1063.00)" font-size="41.3" text-anchor="start">Re</text>
<text transform="translate(882.50 1042.30)" font-size="24.0" text-anchor="start" style="stroke-width:0">*</text>
<text transform="translate(893.00 1076.50)" font-size="23.5" text-anchor="start" style="stroke-width:0">pl</text>
<g>
<line x1="1119.3" y1="53.2" x2="1211.0" y2="53.2" stroke="#ff0000" stroke-width="3.4"/>
<circle cx="1165.2" cy="53.2" r="10.2" fill="#ff0000"/>
<text transform="translate(1219.40 66.70) scale(0.985 1)" font-size="40.3" text-anchor="start">n=0.6</text>
<line x1="1331.2" y1="53.2" x2="1422.1" y2="53.2" stroke="#0000ff" stroke-width="3.4"/>
<polygon points="1376.7,39.0 1389.0,60.3 1364.4,60.3" fill="#0000ff"/>
<text transform="translate(1430.60 66.70) scale(0.985 1)" font-size="40.3" text-anchor="start">n=0.8</text>
<line x1="1119.3" y1="102.6" x2="1211.0" y2="102.6" stroke="#ff00ff" stroke-width="3.4"/>
<polygon points="1165.2,116.8 1177.5,95.5 1152.9,95.5" fill="#ff00ff"/>
<text transform="translate(1219.40 116.10) scale(0.985 1)" font-size="40.3" text-anchor="start">n=1.0</text>
<line x1="1331.2" y1="102.6" x2="1422.1" y2="102.6" stroke="#00ff00" stroke-width="3.4"/>
<polygon points="1376.7,90.1 1389.2,102.6 1376.7,115.1 1364.2,102.6" fill="#00ff00"/>
<text transform="translate(1430.60 116.10) scale(0.985 1)" font-size="40.3" text-anchor="start">n=1.2</text>
<line x1="1119.3" y1="151.3" x2="1211.0" y2="151.3" stroke="#000080" stroke-width="3.4"/>
<polygon points="1150.9,151.3 1172.3,139.0 1172.3,163.6" fill="#000080"/>
<text transform="translate(1219.40 164.80) scale(0.985 1)" font-size="40.3" text-anchor="start">n=1.4</text>
<line x1="1331.2" y1="151.3" x2="1422.1" y2="151.3" stroke="#8000ff" stroke-width="3.4"/>
<polygon points="1390.9,151.3 1369.5,139.0 1369.5,163.6" fill="#8000ff"/>
<text transform="translate(1430.60 164.80) scale(0.985 1)" font-size="40.3" text-anchor="start">n=1.6</text>
<line x1="1119.3" y1="200.5" x2="1211.0" y2="200.5" stroke="#808000" stroke-width="3.4"/>
<polygon points="1165.2,188.9 1175.2,194.7 1175.2,206.3 1165.2,212.1 1155.1,206.3 1155.1,194.7" fill="#808000"/>
<text transform="translate(1219.40 214.00) scale(0.985 1)" font-size="40.3" text-anchor="start">n=1.8</text>
<line x1="1331.2" y1="200.5" x2="1422.1" y2="200.5" stroke="#000000" stroke-width="3.4"/>
<polygon points="1376.7,189.3 1379.5,196.5 1387.3,197.0 1381.3,202.0 1383.2,209.6 1376.7,205.4 1370.1,209.6 1372.0,202.0 1366.0,197.0 1373.8,196.5" fill="#000000"/>
<text transform="translate(1430.60 214.00) scale(0.985 1)" font-size="40.3" text-anchor="start">n=2.0</text>
</g>
</g>
</svg></body></html>
